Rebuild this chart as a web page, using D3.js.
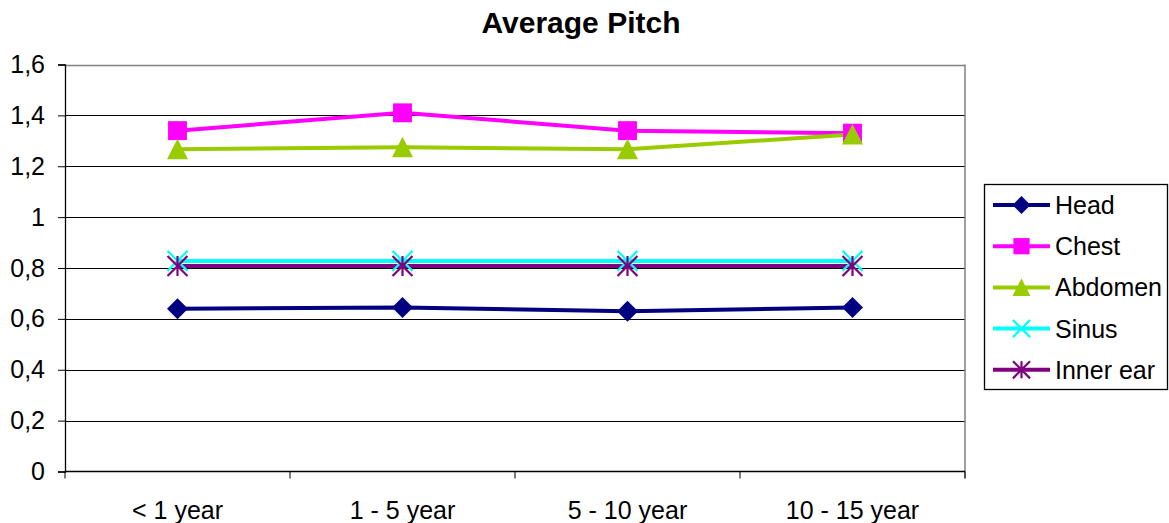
<!DOCTYPE html>
<html>
<head>
<meta charset="utf-8">
<script src="https://cdn.jsdelivr.net/npm/d3@7"></script>
<style>
  html, body { margin: 0; padding: 0; background: #fff; }
  svg { display: block; font-family: Arial, "Liberation Sans", sans-serif; }
</style>
</head>
<body>
<svg id="chart" width="1169" height="523"></svg>
<script>
// Age groups along the x axis
const categories = ["< 1 year", "1 - 5 year", "5 - 10 year", "10 - 15 year"];
// Average pitch per body region
const head     = [0.64, 0.645, 0.63, 0.645];
const chest    = [1.34, 1.41, 1.34, 1.33];
const abdomen  = [1.267, 1.275, 1.267, 1.325];
const sinus    = [0.828, 0.828, 0.828, 0.828];
const innerEar = [0.808, 0.808, 0.808, 0.808];
const seriesNames = ["Head", "Chest", "Abdomen", "Sinus", "Inner ear"];
const yTicks = [0, 0.2, 0.4, 0.6, 0.8, 1, 1.2, 1.4, 1.6];

const series = [
  { name: seriesNames[0], values: head,     color: "#000080", marker: "diamond" },
  { name: seriesNames[1], values: chest,    color: "#FF00FF", marker: "square" },
  { name: seriesNames[2], values: abdomen,  color: "#99CC00", marker: "triangle" },
  { name: seriesNames[3], values: sinus,    color: "#00FFFF", marker: "x" },
  { name: seriesNames[4], values: innerEar, color: "#800080", marker: "star" }
];

const svg = d3.select("#chart");
const plot = { left: 65, right: 965, top: 64.5, bottom: 471.5 };

const x = d3.scaleBand().domain(categories).range([plot.left, plot.right]);
const y = d3.scaleLinear().domain([0, 1.6]).range([plot.bottom, plot.top]);
const fmt = v => String(v).replace(".", ",");

// Title
svg.append("text")
  .attr("x", 581).attr("y", 33)
  .attr("text-anchor", "middle")
  .attr("font-size", 30).attr("font-weight", "bold")
  .text("Average Pitch");

// Horizontal gridlines
svg.append("g").selectAll("line")
  .data(yTicks.filter(t => t > 0 && t < 1.6))
  .join("line")
  .attr("x1", plot.left).attr("x2", plot.right)
  .attr("y1", d => Math.round(y(d)) + 0.5).attr("y2", d => Math.round(y(d)) + 0.5)
  .attr("stroke", "#000").attr("stroke-width", 1);

// Plot frame (top and right in grey)
svg.append("line")
  .attr("x1", plot.left).attr("x2", plot.right)
  .attr("y1", Math.round(y(1.6)) + 0.5).attr("y2", Math.round(y(1.6)) + 0.5)
  .attr("stroke", "#808080").attr("stroke-width", 1.5);
svg.append("line")
  .attr("x1", plot.right).attr("x2", plot.right)
  .attr("y1", y(1.6)).attr("y2", y(0) + 7)
  .attr("stroke", "#808080").attr("stroke-width", 1.5);

// Y axis
const yAxis = svg.append("g")
  .attr("transform", `translate(${plot.left},0)`)
  .call(d3.axisLeft(y).tickValues(yTicks).tickFormat(fmt).tickSize(7).tickPadding(13));
yAxis.select(".domain").attr("stroke", "#000").attr("stroke-width", 1.3);
yAxis.selectAll(".tick line").attr("stroke", "#000");
yAxis.selectAll("text").attr("font-size", 25).attr("fill", "#000")
  .attr("font-family", "Arial, 'Liberation Sans', sans-serif");

// X axis with ticks between categories
const xAxisG = svg.append("g").attr("transform", `translate(0,${plot.bottom})`);
xAxisG.append("line")
  .attr("x1", plot.left).attr("x2", plot.right)
  .attr("stroke", "#000").attr("stroke-width", 1.3);
const bounds = categories.map(c => x(c)).concat([plot.right]);
xAxisG.selectAll(".bt").data(bounds).join("line")
  .attr("class", "bt")
  .attr("x1", d => d).attr("x2", d => d).attr("y1", 0).attr("y2", 7)
  .attr("stroke", "#000");
xAxisG.selectAll("text").data(categories).join("text")
  .attr("x", d => x(d) + x.bandwidth() / 2)
  .attr("y", 47)
  .attr("text-anchor", "middle")
  .attr("font-size", 25)
  .text(d => d);

// Marker drawing
function drawMarker(g, type, color, s) {
  if (type === "diamond") {
    g.append("path").attr("d", `M0,${-s}L${s},0L0,${s}L${-s},0Z`).attr("fill", color);
  } else if (type === "square") {
    const h = s * 0.9;
    g.append("rect").attr("x", -h).attr("y", -h).attr("width", 2 * h).attr("height", 2 * h).attr("fill", color);
  } else if (type === "triangle") {
    g.append("path").attr("d", `M0,${-s}L${s},${s * 0.95}L${-s},${s * 0.95}Z`).attr("fill", color);
  } else if (type === "x") {
    const h = s * 0.95;
    g.append("path").attr("d", `M${-h},${-h}L${h},${h}M${-h},${h}L${h},${-h}`)
      .attr("stroke", color).attr("stroke-width", 2.2).attr("fill", "none");
  } else if (type === "star") {
    const h = s * 0.95;
    g.append("path").attr("d", `M${-h},${-h}L${h},${h}M${-h},${h}L${h},${-h}M0,${-h}L0,${h}`)
      .attr("stroke", color).attr("stroke-width", 2.2).attr("fill", "none");
  }
}

const line = d3.line()
  .x((d, i) => x(categories[i]) + x.bandwidth() / 2)
  .y(d => y(d));

// Series lines and markers
series.forEach(s => {
  svg.append("path")
    .datum(s.values)
    .attr("d", line)
    .attr("fill", "none")
    .attr("stroke", s.color)
    .attr("stroke-width", 4);
});
series.forEach(s => {
  s.values.forEach((v, i) => {
    const g = svg.append("g")
      .attr("transform", `translate(${x(categories[i]) + x.bandwidth() / 2},${y(v)})`);
    drawMarker(g, s.marker, s.color, 10.5);
  });
});

// Legend
const legend = svg.append("g");
legend.append("rect")
  .attr("x", 984.5).attr("y", 184.5).attr("width", 183).attr("height", 205)
  .attr("fill", "#fff").attr("stroke", "#000").attr("stroke-width", 1.3);
series.forEach((s, i) => {
  const cy = 205 + i * 41.2;
  const g = legend.append("g");
  g.append("line")
    .attr("x1", 993).attr("x2", 1050).attr("y1", cy).attr("y2", cy)
    .attr("stroke", s.color).attr("stroke-width", 4);
  const m = g.append("g").attr("transform", `translate(1021.5,${cy})`);
  drawMarker(m, s.marker, s.color, 9);
  g.append("text")
    .attr("x", 1055).attr("y", cy + 9)
    .attr("font-size", 25)
    .text(s.name);
});
</script>
</body>
</html>
